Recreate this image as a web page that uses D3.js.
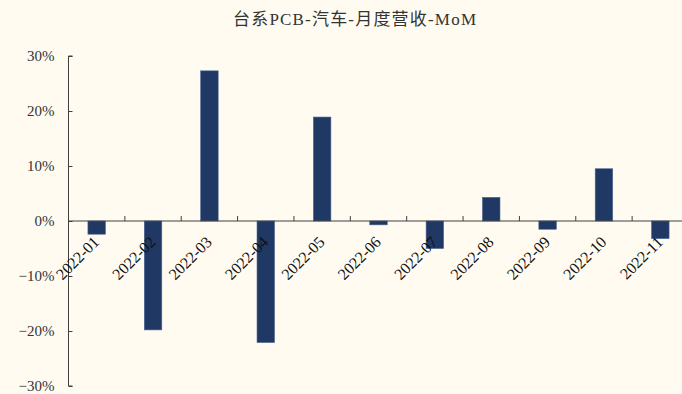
<!DOCTYPE html>
<html><head><meta charset="utf-8">
<script src="https://cdn.jsdelivr.net/npm/d3@7"></script>
<style>
html,body{margin:0;padding:0;background:#FFFBF1;}
svg{display:block;}
</style></head>
<body>
<script>
const categories = ["2022-01","2022-02","2022-03","2022-04","2022-05","2022-06","2022-07","2022-08","2022-09","2022-10","2022-11"];
const momValues = [-0.024,-0.198,0.273,-0.221,0.189,-0.007,-0.050,0.043,-0.015,0.095,-0.032];
const yTicks = [-0.3,-0.2,-0.1,0,0.1,0.2,0.3];
const title = "台系PCB-汽车-月度营收-MoM";

const W = 682, H = 394;
const svg = d3.select("body").append("svg").attr("width", W).attr("height", H);
svg.append("rect").attr("width", W).attr("height", H).attr("fill", "#FFFBF1");

const x = d3.scaleBand().domain(categories).range([68.5, 688.5]).paddingInner(0).paddingOuter(0);
const y = d3.scaleLinear().domain([-0.3, 0.3]).range([386, 56]);
const fontLatin = "'Liberation Serif', 'Noto Sans CJK SC', serif";

svg.append("text").attr("x", 354.5).attr("y", 25).attr("text-anchor", "middle")
  .attr("font-family", "'Liberation Serif', 'Noto Sans CJK SC', serif").attr("font-size", 17)
  .attr("textLength", 243).attr("lengthAdjust", "spacing")
  .attr("fill", "#333").text(title);

// bars
const bw = 17.5;
svg.append("g").selectAll("rect").data(momValues).join("rect")
  .attr("x", (d, i) => x(categories[i]) + x.bandwidth() / 2 - bw / 2)
  .attr("width", bw)
  .attr("y", d => Math.min(y(d), y(0)))
  .attr("height", d => Math.abs(y(d) - y(0)))
  .attr("fill", "#203864")
  .attr("stroke", "#4B6590").attr("stroke-width", 0.6);

// y axis
const yAxis = d3.axisRight(y).tickValues(yTicks).tickSize(4).tickFormat(d3.format(".0%"));
const gy = svg.append("g").attr("transform", "translate(68.5,0)").call(yAxis);
gy.select(".domain").attr("stroke", "#404040").attr("d", `M4,${y(0.3)}H0V${y(-0.3)}H4`);
gy.selectAll(".tick line").attr("stroke", "#404040");
gy.selectAll(".tick text").attr("x", -14).attr("text-anchor", "end")
  .attr("font-family", fontLatin).attr("font-size", 15).attr("fill", "#333");

// x axis at zero
const xAxis = d3.axisTop(x).tickSize(0).tickFormat("");
const gx = svg.append("g").attr("transform", `translate(0,${y(0)})`).call(xAxis);
gx.select(".domain").attr("stroke", "#404040").attr("d", `M68.5,0H${W}`);
// boundary ticks
const bounds = categories.slice(1).map(c => x(c));
gx.selectAll(".bt").data(bounds).join("line").attr("class", "bt")
  .attr("x1", d => d).attr("x2", d => d).attr("y1", 0).attr("y2", -5)
  .attr("stroke", "#404040");

// x labels (drawn above bars)
svg.append("g").selectAll("text").data(categories).join("text")
  .attr("transform", d => `translate(${x(d) + x.bandwidth() / 2 + 3.5},${y(0) + 22}) rotate(-45)`)
  .attr("text-anchor", "end")
  .attr("font-family", fontLatin).attr("font-size", 16).attr("fill", "#111")
  .text(d => d);
</script>
</body></html>
